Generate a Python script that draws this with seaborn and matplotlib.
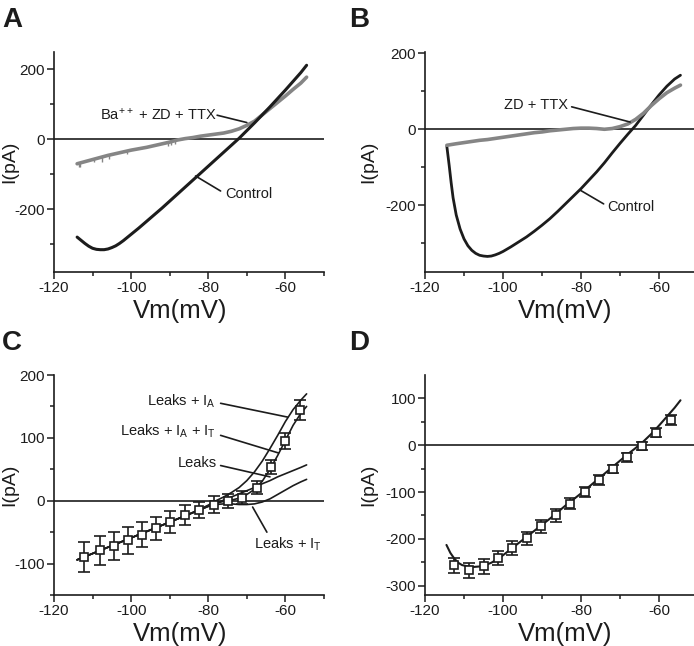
import numpy as np
import pandas as pd
import matplotlib
matplotlib.use('Agg')
import matplotlib.pyplot as plt
import seaborn as sns

# --- Panel A: control vs Ba++ + ZD + TTX ---
a_ctrl_v = [-114, -113, -112, -111, -110, -109, -108, -107, -106, -105, -104, -103, -102,
            -100, -98, -96, -94, -92, -90, -88, -86, -84, -82, -80, -78, -76, -74, -72,
            -70, -68, -66, -64, -62, -60, -58, -56, -54.5]
a_ctrl_i = [-280, -289, -298, -306, -312, -315, -316, -316, -314, -310, -305, -298, -290,
            -272, -254, -235, -216, -197, -177, -157, -137, -117, -97, -77, -57, -37, -17, 3,
            25, 47, 70, 93, 117, 141, 166, 191, 212]
a_drug_v = [-114, -112, -110, -108, -106, -104, -102, -100, -98, -96, -94, -92, -90, -88,
            -86, -84, -82, -80, -78, -76, -74, -72, -70, -68, -66, -64, -62, -60, -58, -56, -54.5]
a_drug_i = [-70, -64, -58, -52, -46, -41, -36, -31, -27, -23, -18, -13, -8, -2,
            2, 5, 9, 12, 15, 18, 23, 30, 40, 52, 70, 88, 106, 124, 143, 161, 178]
a_spike_v = [-113.6, -113.3, -109.7, -107.5, -105.8, -101.0, -90.4, -89.6, -88.7]
a_spike_lo = [-80, -78, -66, -66, -56, -43, -20, -16, -12]

# --- Panel B: control vs ZD + TTX ---
b_ctrl_v = [-114.4, -113.8, -113.3, -112.8, -112, -111, -110, -109, -108, -107, -106, -105,
            -104, -103, -102, -101, -100, -98, -96, -94, -92, -90, -88, -86, -84, -82, -80,
            -78, -76, -74, -72, -70, -68, -66, -64, -62, -60, -58, -56, -54.5]
b_ctrl_i = [-45, -95, -140, -180, -225, -262, -288, -306, -318, -326, -331, -333,
            -334, -333, -330, -326, -321, -309, -296, -283, -268, -252, -235, -216, -196, -176, -156,
            -134, -112, -88, -62, -37, -13, 10, 37, 64, 90, 113, 132, 142]
b_drug_v = [-114.4, -112, -110, -108, -106, -104, -102, -100, -98, -96, -94, -92, -90, -88,
            -86, -84, -82, -80, -78, -76, -74, -72, -70, -68, -66, -64, -62, -60, -58, -56, -54.5]
b_drug_i = [-42, -38, -35, -32, -29, -27, -24, -21, -18, -15, -12, -9, -7, -4,
            -2, 0, 2, 3, 3, 2, 0, 2, 7, 14, 26, 42, 62, 80, 96, 108, 116]

# --- Panel C: measured points and model curves ---
c_pts_v = [-112.1, -108.2, -104.5, -100.9, -97.3, -93.5, -89.9, -86.1, -82.3, -78.6,
           -74.8, -71.2, -67.4, -63.8, -60.1, -56.2]
c_pts_i = [-89, -79, -72, -63, -54, -44, -34, -23, -15, -6, -1, 5, 21, 53, 95, 144]
c_pts_err = [24, 23, 22, 21, 20, 18, 18, 16, 13, 14, 11, 10, 11, 11, 13, 16]

c_model_v = [-114, -110, -106, -102, -98, -94, -90, -86, -82, -80, -78, -76, -74, -72,
             -70, -68, -66, -64, -62, -60, -58, -56, -54.5]
c_leaks = [-94, -84, -74, -64, -54, -44, -34, -24, -14, -9, -4, 1, 6, 11,
           16, 21, 27, 32, 38, 43, 48, 53, 57]
c_leaks_ia = [-94, -84, -74, -64, -54, -44, -34, -24, -13, -7, 0, 6, 13, 21,
              32, 46, 63, 83, 104, 126, 145, 160, 170]
c_leaks_ia_it = [-94, -84, -74, -64, -54, -44, -34, -24, -14, -8, -4, -1, 1, 4,
                 10, 18, 31, 50, 72, 96, 120, 139, 150]
c_leaks_it = [-94, -84, -74, -64, -54, -44, -34, -24, -14, -9, -6, -5, -5, -6,
              -6, -5, -2, 3, 10, 17, 24, 30, 34]

# --- Panel D: measured points and model curve ---
d_pts_v = [-112.6, -108.7, -105.0, -101.3, -97.7, -93.9, -90.3, -86.5, -82.8, -79.1,
           -75.5, -71.8, -68.1, -64.4, -60.7, -57.0]
d_pts_i = [-256, -267, -259, -241, -220, -199, -173, -150, -125, -100, -74, -51, -26, -2, 27, 54]
d_pts_err = [16, 16, 16, 15, 15, 14, 14, 13, 12, 11, 10, 9, 9, 8, 9, 10]
d_model_v = [-114.5, -113.5, -112.5, -111.5, -110.5, -109, -107.5, -106, -104.5, -103, -101.5,
             -100, -98, -96, -94, -92, -90, -88, -86, -84, -82, -80, -78, -76, -74, -72,
             -70, -68, -66, -64, -62, -60, -58, -56, -54.5]
d_model_i = [-213, -230, -242, -251, -256, -259, -260, -259, -256, -251, -244,
             -235, -222, -209, -196, -183, -170, -157, -143, -129, -116, -103, -89, -75, -61, -47,
             -33, -19, -6, 8, 24, 42, 61, 80, 96]

BLACK = '#1c1c1c'
GRAY = '#858585'

sns.set_theme(style='ticks')
plt.rcParams['font.family'] = ['Liberation Sans', 'DejaVu Sans']
plt.rcParams['mathtext.default'] = 'regular'
plt.rcParams['axes.unicode_minus'] = False
plt.rcParams['axes.linewidth'] = 1.2
plt.rcParams['text.color'] = BLACK
plt.rcParams['axes.labelcolor'] = BLACK
plt.rcParams['xtick.color'] = BLACK
plt.rcParams['ytick.color'] = BLACK
plt.rcParams['axes.edgecolor'] = BLACK

fig = plt.figure(figsize=(6.94, 6.46), dpi=100)
axA = fig.add_axes([0.0778, 0.5789, 0.389, 0.3406])
axB = fig.add_axes([0.6124, 0.5789, 0.3934, 0.3406])
axC = fig.add_axes([0.0778, 0.0789, 0.389, 0.3406])
axD = fig.add_axes([0.6124, 0.0789, 0.3934, 0.3406])


def style(ax, ylim, yticks, yminor, ylab_x, xlab_x):
    ax.set_xlim(-120, -50)
    ax.set_ylim(*ylim)
    ax.set_xticks([-120, -100, -80, -60])
    ax.set_xticks([-110, -90, -70, -50], minor=True)
    ax.set_yticks(yticks)
    ax.set_yticks(yminor, minor=True)
    sns.despine(ax=ax)
    ax.axhline(0, color=BLACK, lw=1.2, zorder=1)
    ax.tick_params(which='major', direction='out', length=5, width=1.1, labelsize=11, pad=1.5)
    ax.tick_params(which='minor', direction='out', length=3, width=1.1)
    ax.set_xlabel('Vm(mV)', fontsize=18.5)
    ax.set_ylabel('I(pA)', fontsize=14)
    ax.xaxis.set_label_coords(xlab_x, -0.122)
    ax.yaxis.set_label_coords(ylab_x, 0.5)


def pointer(ax, start, end):
    ax.annotate('', xy=end, xytext=start,
                arrowprops=dict(arrowstyle='-', lw=1.2, color=BLACK, shrinkA=0, shrinkB=0))


# Panel A
dfA1 = pd.DataFrame({'V': a_drug_v, 'I': a_drug_i})
dfA2 = pd.DataFrame({'V': a_ctrl_v, 'I': a_ctrl_i})
sns.lineplot(data=dfA1, x='V', y='I', ax=axA, color=GRAY, lw=2.6, estimator=None, sort=False)
axA.vlines(a_spike_v, a_spike_lo, np.interp(a_spike_v, a_drug_v, a_drug_i), color=GRAY, lw=1.0)
sns.lineplot(data=dfA2, x='V', y='I', ax=axA, color=BLACK, lw=2.2, estimator=None, sort=False)
style(axA, (-380, 250), [-200, 0, 200], [-300, -100, 100], -0.133, 0.467)
axA.text(-108.2, 71, 'Ba$^{++}$ + ZD + TTX', fontsize=10.5, va='center')
pointer(axA, (-77.7, 69), (-70, 48))
axA.text(-75.5, -157, 'Control', fontsize=10.5, va='center')
pointer(axA, (-76.8, -148), (-83.3, -105))

# Panel B
dfB1 = pd.DataFrame({'V': b_drug_v, 'I': b_drug_i})
dfB2 = pd.DataFrame({'V': b_ctrl_v, 'I': b_ctrl_i})
sns.lineplot(data=dfB2, x='V', y='I', ax=axB, color=BLACK, lw=2.0, estimator=None, sort=False)
sns.lineplot(data=dfB1, x='V', y='I', ax=axB, color=GRAY, lw=2.6, estimator=None, sort=False)
style(axB, (-375, 203), [-200, 0, 200], [-300, -100, 100], -0.176, 0.515)
axB.text(-99.8, 63, 'ZD + TTX', fontsize=10.5, va='center')
pointer(axB, (-82.4, 59), (-67.4, 19))
axB.text(-73.3, -204, 'Control', fontsize=10.5, va='center')
pointer(axB, (-74.2, -196), (-80.2, -160))

# Panel C
for curve in [c_leaks, c_leaks_ia, c_leaks_ia_it, c_leaks_it]:
    dfc = pd.DataFrame({'V': c_model_v, 'I': curve})
    sns.lineplot(data=dfc, x='V', y='I', ax=axC, color=BLACK, lw=1.2, estimator=None, sort=False)
axC.errorbar(c_pts_v, c_pts_i, yerr=c_pts_err, fmt='s', ms=6, mfc='white', mec=BLACK,
             mew=1.2, ecolor=BLACK, elinewidth=1.2, capsize=4.5, capthick=1.2, zorder=3)
style(axC, (-150, 200), [-100, 0, 100, 200], [-150, -50, 50, 150], -0.133, 0.467)
axC.text(-95.8, 158, 'Leaks + I$_A$', fontsize=10.5, va='center')
pointer(axC, (-76.8, 155), (-59.4, 133))
axC.text(-103, 111, 'Leaks + I$_A$ + I$_T$', fontsize=10.5, va='center')
pointer(axC, (-76.8, 104), (-61.8, 76))
axC.text(-88, 60, 'Leaks', fontsize=10.5, va='center')
pointer(axC, (-76.8, 56), (-64, 38))
axC.text(-68.2, -69, 'Leaks + I$_T$', fontsize=10.5, va='center')
pointer(axC, (-64.8, -50), (-68.5, -10))

# Panel D
dfD = pd.DataFrame({'V': d_model_v, 'I': d_model_i})
sns.lineplot(data=dfD, x='V', y='I', ax=axD, color=BLACK, lw=1.5, estimator=None, sort=False)
axD.errorbar(d_pts_v, d_pts_i, yerr=d_pts_err, fmt='s', ms=6, mfc='white', mec=BLACK,
             mew=1.2, ecolor=BLACK, elinewidth=1.2, capsize=4.5, capthick=1.2, zorder=3)
style(axD, (-320, 150), [-300, -200, -100, 0, 100], [-250, -150, -50, 50], -0.176, 0.515)

for lab, x, y in [('A', 0.003, 0.958), ('B', 0.503, 0.958), ('C', 0.003, 0.458), ('D', 0.503, 0.458)]:
    fig.text(x, y, lab, fontsize=20, fontweight='bold', va='baseline')

fig.savefig('out.png', dpi=100)
